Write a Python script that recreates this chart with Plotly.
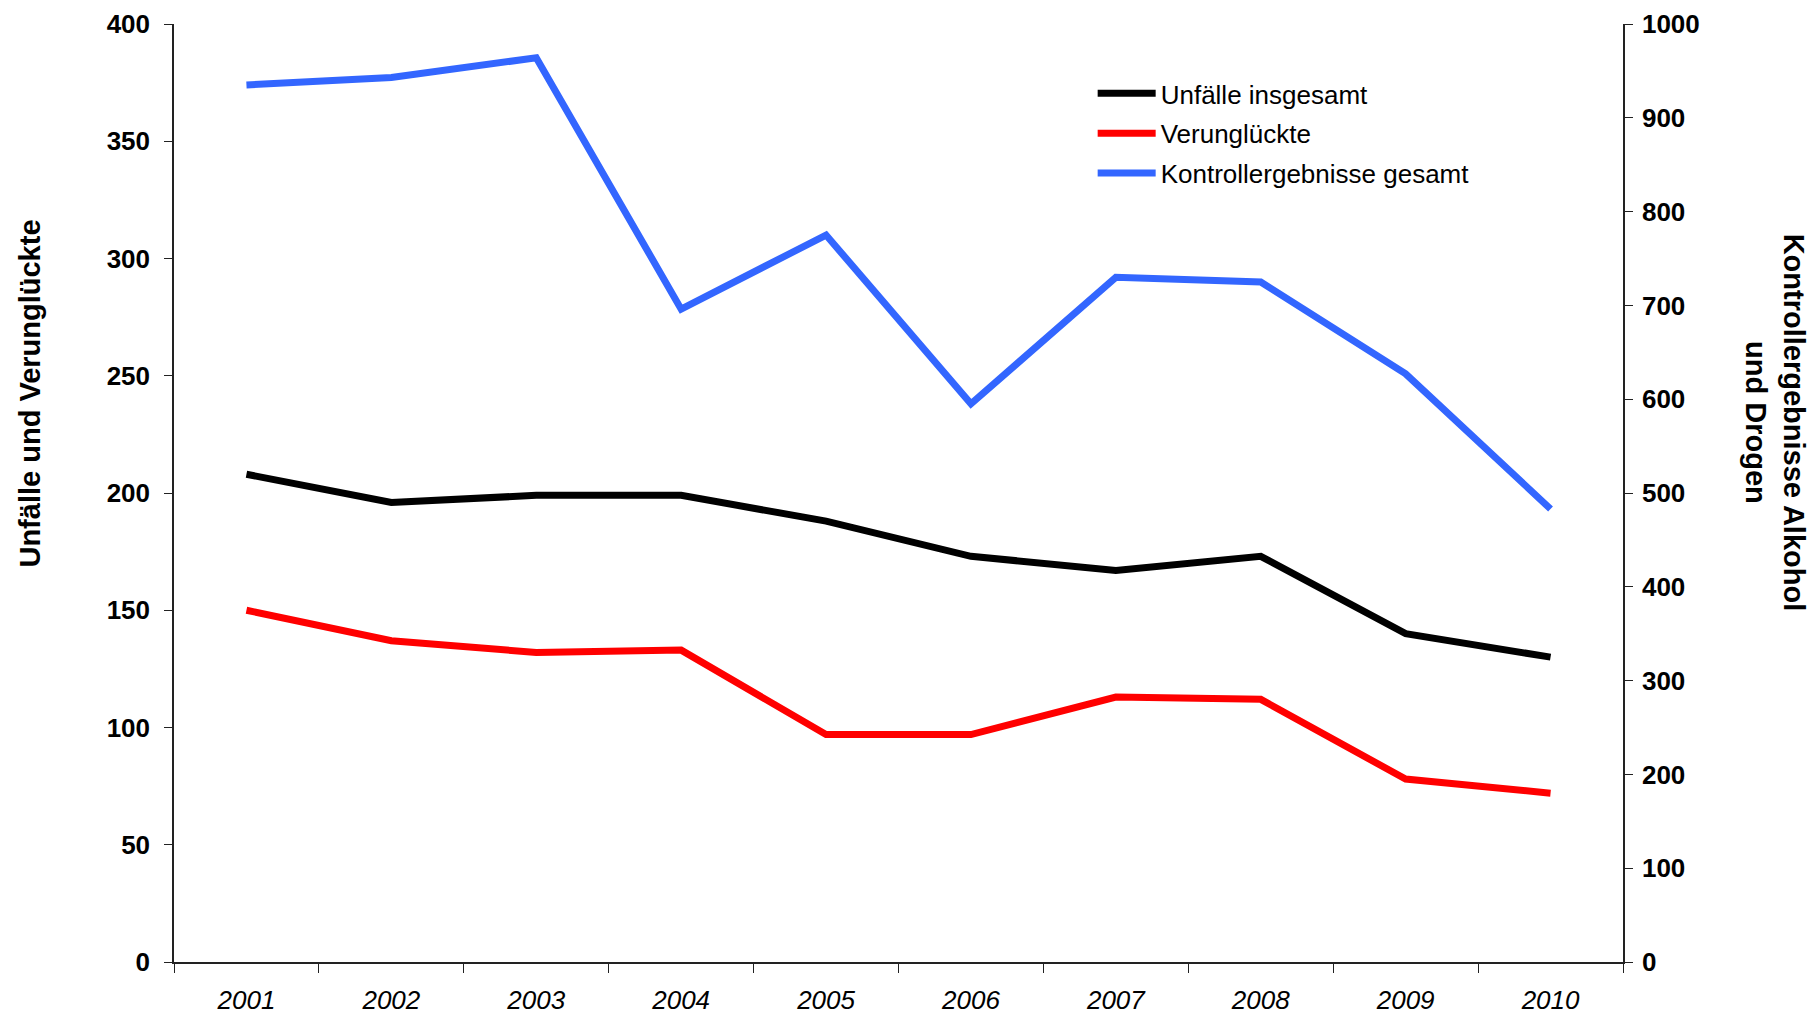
import plotly.graph_objects as go

years = ["2001", "2002", "2003", "2004", "2005", "2006", "2007", "2008", "2009", "2010"]
unfaelle = [208, 196, 199, 199, 188, 173, 167, 173, 140, 130]
verunglueckte = [150, 137, 132, 133, 97, 97, 113, 112, 78, 72]
kontrollen = [935, 943, 964, 696, 775, 595, 730, 725, 627, 483]

left_ticks = [0, 50, 100, 150, 200, 250, 300, 350, 400]
right_ticks = [0, 100, 200, 300, 400, 500, 600, 700, 800, 900, 1000]

FONT = "Liberation Sans, Arial, sans-serif"
AX = "#222222"
LW = 7

fig = go.Figure()
fig.add_trace(go.Scatter(x=years, y=unfaelle, mode="lines", name="Unfälle insgesamt",
                         line=dict(color="#000000", width=LW), legendgroup="a",
                         xaxis="x", yaxis="y"))
fig.add_trace(go.Scatter(x=years, y=verunglueckte, mode="lines", name="Verunglückte",
                         line=dict(color="#FF0000", width=LW), legendgroup="b",
                         xaxis="x", yaxis="y"))
fig.add_trace(go.Scatter(x=years, y=kontrollen, mode="lines", name="Kontrollergebnisse gesamt",
                         line=dict(color="#3366FF", width=LW), legendgroup="c",
                         xaxis="x", yaxis="y2"))

tickfont_b = dict(family=FONT, size=26, color="#000000", weight="bold")

fig.update_layout(
    width=1812, height=1011,
    margin=dict(l=166, r=197, t=16, b=57, autoexpand=False),
    paper_bgcolor="white", plot_bgcolor="white",
    font=dict(family=FONT, color="#000000"),
    showlegend=True,
    legend=dict(x=0.634, y=0.951, xanchor="left", yanchor="top",
                font=dict(family=FONT, size=26, color="#000000"),
                bgcolor="rgba(0,0,0,0)", tracegroupgap=3, itemwidth=58),
    xaxis=dict(type="category", categoryarray=years, range=[-0.5, 9.5], automargin=False,
               tickson="boundaries", ticks="outside", ticklen=9, tickcolor=AX,
               showline=True, linecolor=AX, linewidth=1.5, showgrid=False, zeroline=False,
               tickfont=dict(family=FONT, size=26, color="#000000", style="italic"),
               ticklabelstandoff=14, ticklabeloverflow="allow", fixedrange=True),
    xaxis2=dict(type="linear", range=[-0.5, 9.5], overlaying="x", anchor="y", side="bottom",
                automargin=False,
                tickmode="linear", tick0=-0.5, dtick=1, ticks="inside", ticklen=9,
                tickcolor=AX, showticklabels=False, showline=False, showgrid=False,
                zeroline=False),
    yaxis=dict(range=[0, 400], tickvals=left_ticks, ticks="outside", ticklen=8, tickcolor=AX,
               automargin=False, ticklabeloverflow="allow",
               showline=True, linecolor=AX, linewidth=1.5, showgrid=False, zeroline=False,
               tickfont=tickfont_b, ticklabelstandoff=9),
    yaxis3=dict(range=[0, 400], tickvals=left_ticks, overlaying="y", anchor="x", side="left",
                automargin=False,
                ticks="inside", ticklen=8, tickcolor=AX, showticklabels=False,
                showline=False, showgrid=False, zeroline=False),
    yaxis2=dict(range=[0, 1000], tickvals=right_ticks, overlaying="y", anchor="x", side="right",
                automargin=False, ticklabeloverflow="allow",
                ticks="outside", ticklen=8, tickcolor=AX, showline=True, linecolor=AX,
                linewidth=1.5, showgrid=False, zeroline=False, tickfont=tickfont_b,
                ticklabelstandoff=4),
    yaxis4=dict(range=[0, 1000], tickvals=right_ticks, overlaying="y", anchor="x", side="right",
                automargin=False,
                ticks="inside", ticklen=8, tickcolor=AX, showticklabels=False,
                showline=False, showgrid=False, zeroline=False),
    annotations=[
        dict(text="<b>Unfälle und Verunglückte</b>", xref="paper", yref="paper",
             x=-0.0994, y=0.606, xanchor="center", yanchor="middle", textangle=-90,
             showarrow=False, font=dict(family=FONT, size=29, color="#000000")),
        dict(text="<b>Kontrollergebnisse Alkohol<br>und Drogen</b>", xref="paper", yref="paper",
             x=1.1049, y=0.575, xanchor="center", yanchor="middle", textangle=90,
             showarrow=False, font=dict(family=FONT, size=29, color="#000000")),
    ],
)

fig.write_html("out.html")
